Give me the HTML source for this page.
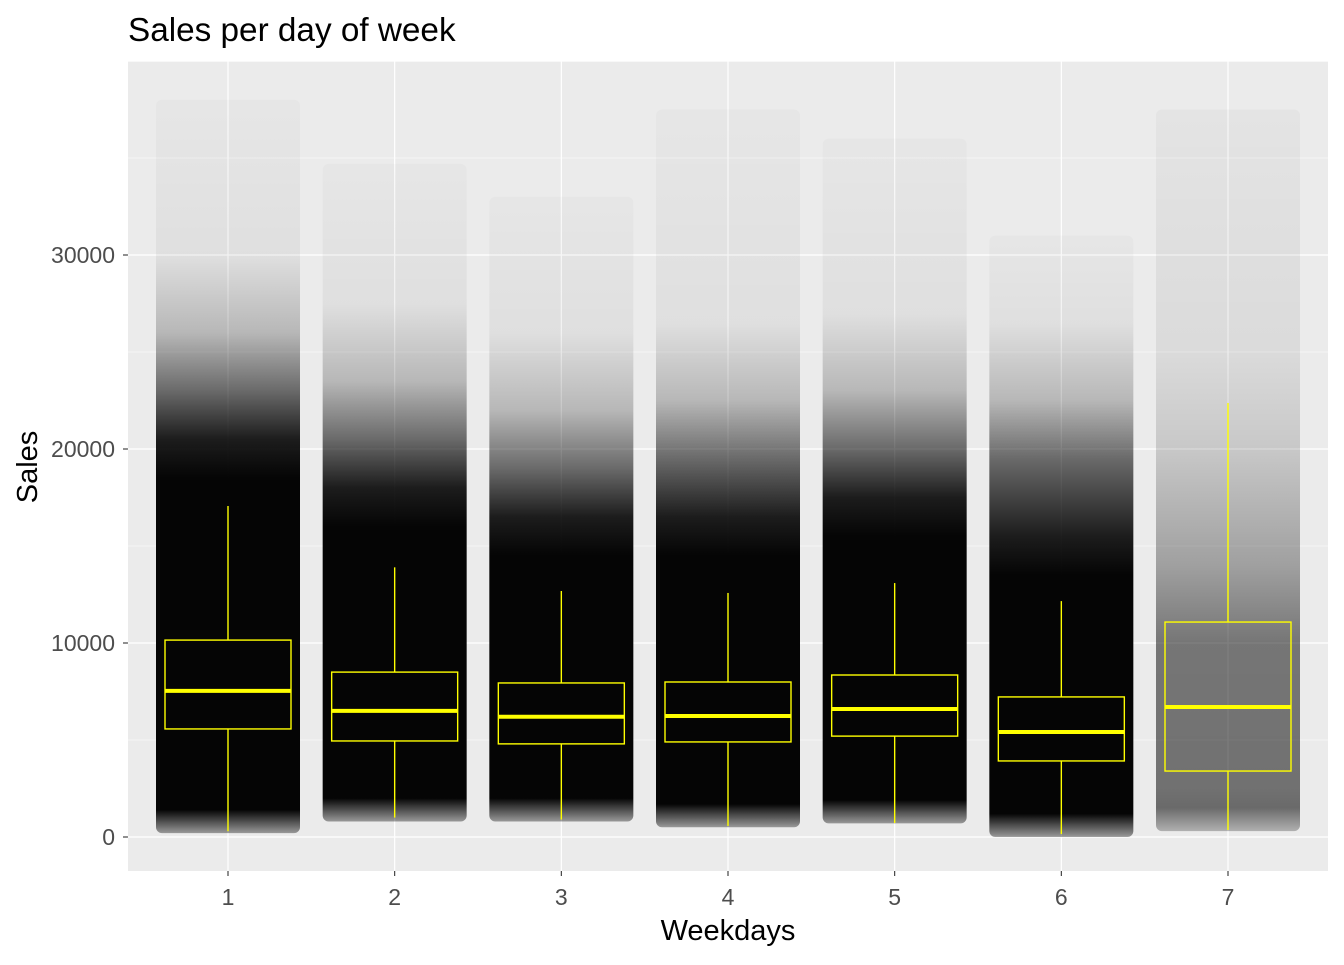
<!DOCTYPE html>
<html><head><meta charset="utf-8"><style>
body{margin:0;background:#fff;}
svg text{font-family:"Liberation Sans",Arial,sans-serif;}
</style></head><body>
<svg id="chart" width="1344" height="960" xmlns="http://www.w3.org/2000/svg">
<rect width="1344" height="960" fill="#fff"/>
<text x="128" y="41" font-size="33.3" fill="#000">Sales per day of week</text>
<rect x="128" y="61" width="1200" height="810" fill="#EBEBEB"/>
<g id="grid"></g><g id="clouds"></g><g id="boxes"></g><g id="axes"></g>
<text x="728" y="940" font-size="29" text-anchor="middle" fill="#000">Weekdays</text>
<text transform="translate(37,467) rotate(-90)" font-size="29" text-anchor="middle" fill="#000">Sales</text>
</svg>
<script>
const days=["1","2","3","4","5","6","7"];
const yTicks=[0,10000,20000,30000];
const whiskLo=[300,1000,900,570,720,150,360];
const q1=[5570,4950,4800,4900,5200,3920,3400];
const med=[7530,6500,6200,6240,6600,5410,6700];
const q3=[10150,8500,7940,7990,8350,7220,11080];
const whiskHi=[17060,13900,12680,12580,13090,12160,22370];
const cloudLo=[200,800,800,500,700,0,300];
const solidTop=[18500,16000,14500,14500,15500,13500,0];
const fadeTop=[26000,23500,22000,22500,23000,22500,20000];
const maxVal=[38000,34700,33000,37500,36000,31000,37500];
const NS="http://www.w3.org/2000/svg";
const x0=128,x1=1328,yTop=61,yBot=871;
const y=v=>837-v*0.0194;
const x=i=>228+i*(1000/6);
function mk(t,a,p){const e=document.createElementNS(NS,t);for(const k in a)e.setAttribute(k,a[k]);p.appendChild(e);return e;}
const grid=document.getElementById('grid');
for(let v=-5000;v<=40000;v+=5000){const yy=y(v);if(yy<yTop||yy>yBot)continue;const major=v%10000===0;
const l=mk('line',{x1:x0,x2:x1,y1:yy,y2:yy,stroke:'#fff','stroke-width':major?1.2:0.6},grid);

}
days.forEach((d,i)=>{const l=mk('line',{x1:x(i),x2:x(i),y1:yTop,y2:yBot,stroke:'#fff','stroke-width':1.2},grid);

});
const defs=mk('defs',{},document.getElementById('chart'));
const clouds=document.getElementById('clouds');
days.forEach((d,i)=>{
 const top=y(maxVal[i]),bot=y(cloudLo[i]),H=bot-top;
 const g=mk('linearGradient',{id:'g'+i,x1:0,y1:0,x2:0,y2:1},defs);
 const off=v=>Math.max(0,Math.min(1,(y(v)-top)/H));
 const stops=[];
 if(solidTop[i]>0){
  stops.push([0,0.02],[off(fadeTop[i]+4000),0.05],[off(fadeTop[i]),0.22],[off(fadeTop[i]-3000),0.55],[off(solidTop[i]+2000),0.88],[off(solidTop[i]),0.98],[off(cloudLo[i]+1200),0.98],[1,0.35]);
 } else {
  stops.push([0,0.03],[off(fadeTop[i]+5000),0.07],[off(fadeTop[i]),0.15],[off(14000),0.32],[off(10000),0.5],[off(2500),0.52],[off(1500),0.55],[1,0.25]);
 }
 stops.forEach(s=>mk('stop',{offset:s[0],'stop-color':'#000','stop-opacity':s[1]},g));
 const r=mk('rect',{x:x(i)-72,y:top,width:144,height:H,rx:6,fill:'url(#g'+i+')'},clouds);
 
 
});
const boxes=document.getElementById('boxes');
days.forEach((d,i)=>{const c=x(i),w=63;
 const a=mk('line',{x1:c,x2:c,y1:y(whiskHi[i]),y2:y(q3[i]),stroke:'#FFFF00','stroke-width':1.4},boxes);
 
 const b=mk('line',{x1:c,x2:c,y1:y(q1[i]),y2:y(whiskLo[i]),stroke:'#FFFF00','stroke-width':1.4},boxes);
 
 const r=mk('rect',{x:c-w,y:y(q3[i]),width:2*w,height:y(q1[i])-y(q3[i]),fill:'none',stroke:'#FFFF00','stroke-width':1.4},boxes);
 
 const m=mk('line',{x1:c-w,x2:c+w,y1:y(med[i]),y2:y(med[i]),stroke:'#FFFF00','stroke-width':4},boxes);
 
});
const axes=document.getElementById('axes');
yTicks.forEach(v=>{const yy=y(v);
 const t=mk('line',{x1:123,x2:128,y1:yy,y2:yy,stroke:'#333','stroke-width':1.1},axes);
 
 const l=mk('text',{x:115,y:yy+8,'font-size':23,'text-anchor':'end',fill:'#4D4D4D'},axes);l.textContent=v;
 });
days.forEach((d,i)=>{
 const t=mk('line',{x1:x(i),x2:x(i),y1:871,y2:876,stroke:'#333','stroke-width':1.1},axes);
 
 const l=mk('text',{x:x(i),y:905,'font-size':23,'text-anchor':'middle',fill:'#4D4D4D'},axes);l.textContent=d;
 });
</script>
</body></html>
